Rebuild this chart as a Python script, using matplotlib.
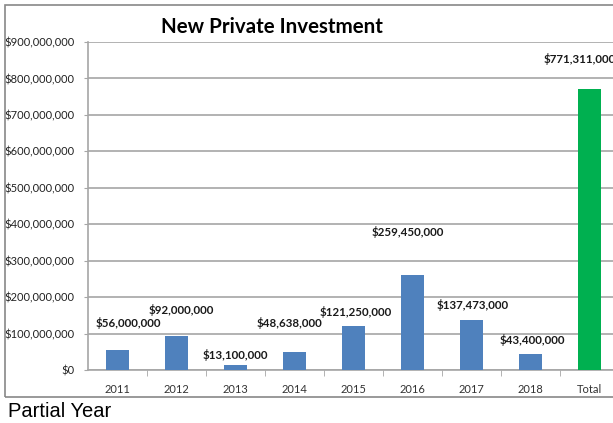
import matplotlib.pyplot as plt
from matplotlib.patches import Rectangle
from matplotlib.ticker import FuncFormatter

categories = ['2011', '2012', '2013', '2014', '2015', '2016', '2017', '2018', 'Total']
investment = [56000000, 92000000, 13100000, 48638000, 121250000,
              259450000, 137473000, 43400000, 771311000]
bar_colors = ['#4f81bd'] * 8 + ['#00b050']
# label offsets from bar tops, in pixels
label_offsets = [(11, 27), (5, 26), (0, 10), (-5, 29), (2, 14),
                 (-5, 43), (1, 15), (2, 14), (-10, 30)]

plt.rcParams['font.family'] = ['Lato', 'DejaVu Sans']

fig = plt.figure(figsize=(6.13, 4.23), dpi=100)
ax = fig.add_axes([88 / 613, 53 / 423, 531 / 613, 328 / 423])

x = range(len(categories))
ax.bar(x, investment, width=0.39, color=bar_colors, zorder=3)

for i, v in enumerate(investment):
    dx, dy = label_offsets[i]
    ax.annotate('${:,.0f}'.format(v), xy=(i, v), xytext=(dx, dy),
                textcoords='offset pixels', ha='center', va='center',
                fontsize=8.3, fontweight='bold', color='#1a1a1a',
                annotation_clip=False)

ax.set_xlim(-0.5, len(categories) - 0.5)
ax.set_ylim(0, 900000000)
ax.set_yticks(range(0, 900000001, 100000000))
ax.yaxis.set_major_formatter(FuncFormatter(lambda v, p: '${:,.0f}'.format(v)))
ax.yaxis.grid(True, color='#a6a6a6', linewidth=1.2, zorder=0)

ax.set_xticks(list(x))
ax.set_xticklabels(categories)
ax.set_xticks([i + 0.5 for i in range(len(categories) - 1)], minor=True)
ax.tick_params(axis='x', which='major', length=0, labelsize=8,
               labelcolor='#333333', pad=10)
ax.tick_params(axis='x', which='minor', length=4, color='#a6a6a6', direction='out')
ax.tick_params(axis='y', length=3, color='#a6a6a6', labelsize=8,
               labelcolor='#222222', pad=6.5)

for side in ['top', 'right']:
    ax.spines[side].set_visible(False)
for side in ['left', 'bottom']:
    ax.spines[side].set_color('#a6a6a6')
    ax.spines[side].set_linewidth(1.2)

fig.text(272 / 613, 1 - 27 / 423, 'New Private Investment', ha='center',
         va='center', fontsize=14.8, fontweight='bold')

# chart frame
fig.patches.append(Rectangle((5 / 613, 1 - 397 / 423), 1.0, 392 / 423,
                             transform=fig.transFigure, fill=False,
                             edgecolor='#888888', linewidth=1.2))

fig.text(8 / 613, 1 - 411 / 423, 'Partial Year', ha='left', va='center',
         fontsize=14.5, family='Liberation Sans')

fig.savefig('out.png', dpi=100)
